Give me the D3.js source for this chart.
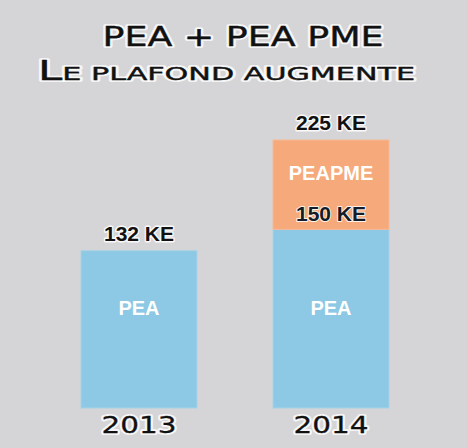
<!DOCTYPE html>
<html>
<head>
<meta charset="utf-8">
<script src="https://cdn.jsdelivr.net/npm/d3@7"></script>
<style>
  body { margin: 0; background: #d5d5d7; }
  svg { display: block; }
</style>
</head>
<body>
<div id="chart"></div>
<script>
// values (KE = thousand euros)
var years = ['2013', '2014'];
var peaValues = [132, 150];
var peapmeValues = [0, 75];
var titleLine1 = 'PEA + PEA PME';
var titleLine2 = ['L', 'E PLAFOND AUGMENTE'];

var width = 467, height = 448;

var svg = d3.select('#chart').append('svg')
	.attr('width', width)
	.attr('height', height);

svg.append('rect')
	.attr('width', width)
	.attr('height', height)
	.attr('fill', '#d5d5d7');

var xScale = d3.scaleBand()
	.domain(years)
	.range([81, 389])
	.paddingInner(0.396)
	.paddingOuter(0);

var yScale = d3.scaleLinear()
	.domain([0, 225])
	.range([408, 140]);

var data = years.map(function(y, i) {
	return { year: y, pea: peaValues[i], peapme: peapmeValues[i], total: peaValues[i] + peapmeValues[i] };
});

// blue PEA part
svg.selectAll('.pea-rect').data(data)
	.enter()
	.append('rect')
	.attr('class', 'pea-rect')
	.attr('x', d => xScale(d.year))
	.attr('y', d => yScale(d.pea))
	.attr('width', xScale.bandwidth())
	.attr('height', d => yScale(0) - yScale(d.pea))
	.attr('fill', '#8dc8e4')
	.attr('stroke', '#a6d3e8')
	.attr('stroke-width', 1);

// orange PEA PME part on top
svg.selectAll('.pme-rect').data(data.filter(d => d.peapme > 0))
	.enter()
	.append('rect')
	.attr('class', 'pme-rect')
	.attr('x', d => xScale(d.year))
	.attr('y', d => yScale(d.total))
	.attr('width', xScale.bandwidth())
	.attr('height', d => yScale(d.pea) - yScale(d.total))
	.attr('fill', '#f6a97a')
	.attr('stroke', '#f8b994')
	.attr('stroke-width', 1);

var halo = function(sel, w) {
	sel.attr('stroke', '#ffffff')
		.attr('stroke-width', w)
		.attr('stroke-linejoin', 'round')
		.attr('stroke-opacity', 0.85)
		.style('paint-order', 'stroke');
};

var boldFont = '"Liberation Sans", Arial, sans-serif';
var wideFont = '"DejaVu Sans", sans-serif';

// wide glowing text: a white halo copy under a slightly thickened dark copy
function wideText(parent, x, y, len, size, weight, build) {
	var g = parent.append('g');
	[0, 1].forEach(function(layer) {
		var t = g.append('text')
			.attr('x', x)
			.attr('y', y)
			.attr('text-anchor', 'middle')
			.attr('textLength', len)
			.attr('lengthAdjust', 'spacingAndGlyphs')
			.style('font-family', wideFont)
			.style('font-size', size + 'px')
			.attr('stroke-linejoin', 'round');
		if (layer == 0) {
			t.attr('fill', '#ffffff').attr('stroke', '#ffffff').attr('stroke-width', 4).attr('stroke-opacity', 0.8);
		} else {
			t.attr('fill', '#111111').attr('stroke', '#111111').attr('stroke-width', weight);
		}
		build(t);
	});
	return g;
}

// value labels above each stack
svg.selectAll('.total-label').data(data)
	.enter()
	.append('text')
	.attr('class', 'total-label')
	.attr('x', d => xScale(d.year) + xScale.bandwidth() / 2)
	.attr('y', d => yScale(d.total) - 10)
	.attr('text-anchor', 'middle')
	.style('font-family', boldFont)
	.style('font-weight', 'bold')
	.style('font-size', '21px')
	.attr('fill', '#111111')
	.text(d => d.total + ' KE')
	.call(halo, 3);

// PEA level where a PME part is stacked on top
svg.selectAll('.pea-level').data(data.filter(d => d.peapme > 0))
	.enter()
	.append('text')
	.attr('class', 'pea-level')
	.attr('x', d => xScale(d.year) + xScale.bandwidth() / 2)
	.attr('y', d => yScale(d.pea) - 8)
	.attr('text-anchor', 'middle')
	.style('font-family', boldFont)
	.style('font-weight', 'bold')
	.style('font-size', '21px')
	.attr('fill', '#141c28')
	.text(d => d.pea + ' KE')
	.call(halo, 2);

// segment names
svg.selectAll('.pea-name').data(data)
	.enter()
	.append('text')
	.attr('class', 'pea-name')
	.attr('x', d => xScale(d.year) + xScale.bandwidth() / 2)
	.attr('y', 314.5)
	.attr('text-anchor', 'middle')
	.style('font-family', boldFont)
	.style('font-weight', 'bold')
	.style('font-size', '20px')
	.attr('fill', '#ffffff')
	.text('PEA');

svg.selectAll('.pme-name').data(data.filter(d => d.peapme > 0))
	.enter()
	.append('text')
	.attr('class', 'pme-name')
	.attr('x', d => xScale(d.year) + xScale.bandwidth() / 2)
	.attr('y', 180)
	.attr('text-anchor', 'middle')
	.style('font-family', boldFont)
	.style('font-weight', 'bold')
	.style('font-size', '20px')
	.attr('fill', '#ffffff')
	.text('PEAPME');

// year axis (band scale gives the positions, text drawn in the wide style)
var xAxis = svg.append('g')
	.attr('transform', 'translate(0,' + 433 + ')')
	.call(d3.axisBottom(xScale).tickSize(0).tickPadding(0));
xAxis.select('.domain').remove();
xAxis.selectAll('.tick text').remove();
xAxis.selectAll('.tick').each(function(d) {
	wideText(d3.select(this), 0, 0, 75, 23, 0.3, t => t.text(d));
});

// title
wideText(svg, 243, 46, 281, 26, 0.4, t => t.text(titleLine1));
wideText(svg, 226.5, 80, 377, 26, 0.4, function(t) {
	t.append('tspan').text(titleLine2[0]);
	t.append('tspan').style('font-size', '18px').text(titleLine2[1]);
});
</script>
</body>
</html>
